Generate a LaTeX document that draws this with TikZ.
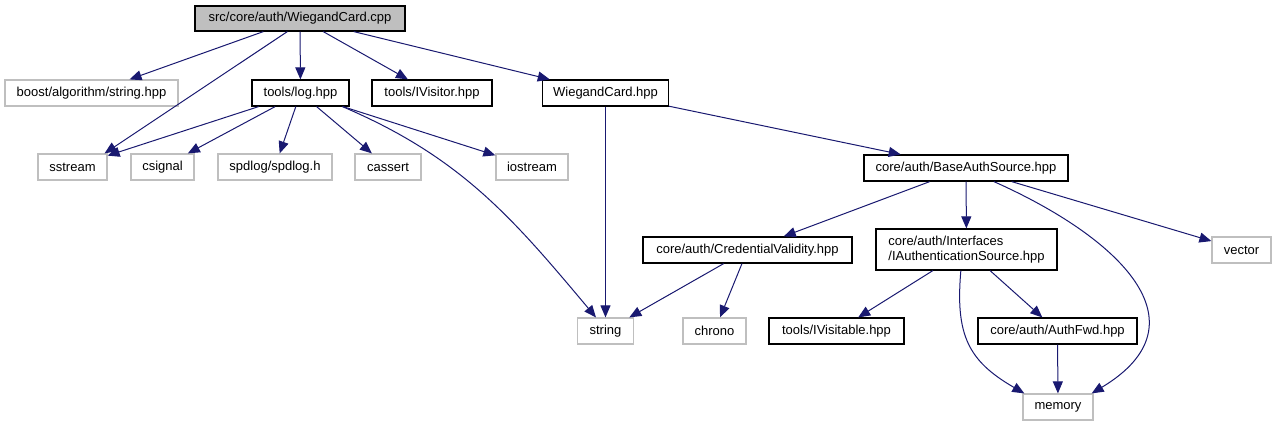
\documentclass[tikz,border=0pt]{standalone}
\usepackage{fontspec}
\setmainfont{Liberation Sans}
\usepackage{tikz}
\usetikzlibrary{arrows.meta}
\definecolor{edgeblue}{HTML}{191970}
\definecolor{boxgray}{HTML}{BFBFBF}
\tikzset{
	hdrbox/.style={draw=black, line width=1.2pt, minimum height=26pt, inner sep=0pt,
		font=\fontsize{13}{15}\selectfont}
}
\tikzset{
	sysbox/.style={hdrbox, draw=boxgray}
}
\tikzset{
	incl/.style={draw=edgeblue, line width=1pt, -{Triangle[length=12pt,width=10pt]}}
}

\begin{document}
\begin{tikzpicture}[x=1pt,y=-1pt]
      \useasboundingbox (0,0) rectangle (1273,425);
      % the file itself
      \node[hdrbox, fill=boxgray, minimum height=25pt, minimum width=210pt] (root) at (300,18.5) {src/core/auth/WiegandCard.cpp};
      % project headers
      \foreach \n/\x/\y/\w/\t in {
        log/300.5/93/97/{tools/log.hpp}, ivisitor/432/93/120/{tools/IVisitor.hpp},
        whc/605.5/93/126/{WiegandCard.hpp}, base/966/168/204/{core/auth/BaseAuthSource.hpp},
        credval/747.5/250/209/{core/auth/CredentialValidity.hpp},
        ivisitable/836.5/331/135/{tools/IVisitable.hpp}, authfwd/1057.5/331/159/{core/auth/AuthFwd.hpp}}
        \node[hdrbox, minimum width=\w pt] (\n) at (\x,\y) {\t};
      \node[hdrbox, minimum width=181pt, minimum height=41pt, align=left] (ifaces) at (966.5,249.5)
        {core/auth/Interfaces\\/IAuthenticationSource.hpp};
      % system headers
      \foreach \n/\x/\y/\w/\t in {
        boost/91.5/93/173/{boost/algorithm/string.hpp}, sstream/72.5/167/69/sstream,
        csignal/162.5/167/63/csignal, spdlog/275/167/114/{spdlog/spdlog.h},
        cassert/388/167/66/cassert, iostream/532/167/72/iostream,
        vector/1241.5/250/59/vector, string/605.5/331/56/string,
        chrono/714.5/331/63/chrono, memory/1058/407/70/memory}
        \node[sysbox, minimum width=\w pt] (\n) at (\x,\y) {\t};
      % includes
      \foreach \a/\b in {root/boost, root/log, root/ivisitor, root/whc,
        log/sstream, log/csignal, log/spdlog, log/cassert, log/iostream,
        whc/string, whc/base, base/credval, base/ifaces, base/vector,
        credval/string, credval/chrono, ifaces/ivisitable, ifaces/authfwd, authfwd/memory}
        \draw[incl] (\a) -- (\b);
      \draw[incl] (root.-134) -- (sstream.23);
      \draw[incl] (log.-18) to[out=-23,in=130] (string.125);
      \draw[incl] (base.-26) to[out=-24,in=31,looseness=1.5] (memory.22);
      \draw[incl] (ifaces.-105) to[out=-95,in=150,looseness=1.2] (memory.158);
    \end{tikzpicture}
\end{document}
